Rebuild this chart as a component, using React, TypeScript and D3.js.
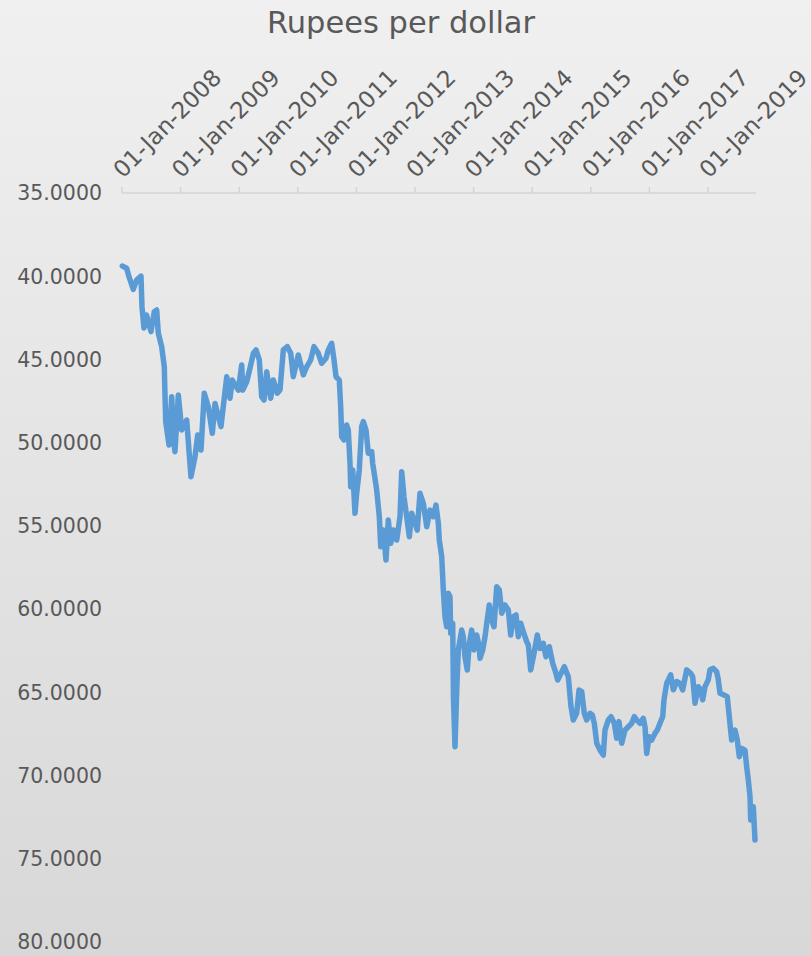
import React from "react";
import * as d3 from "d3";

// Position along the time axis, in fractional years
const yearPos: number[] = [
  2008.005, 2008.080, 2008.119, 2008.193, 2008.251, 2008.324, 2008.341, 2008.375, 2008.418, 2008.449,
  2008.495, 2008.551, 2008.592, 2008.619, 2008.677, 2008.722, 2008.730, 2008.746, 2008.802, 2008.848,
  2008.875, 2008.904, 2008.961, 2009.019, 2009.104, 2009.177, 2009.246, 2009.292, 2009.348, 2009.404,
  2009.473, 2009.541, 2009.587, 2009.689, 2009.787, 2009.843, 2009.882, 2009.985, 2010.043, 2010.060,
  2010.128, 2010.184, 2010.241, 2010.287, 2010.343, 2010.384, 2010.423, 2010.469, 2010.538, 2010.582,
  2010.650, 2010.696, 2010.753, 2010.821, 2010.879, 2010.923, 2011.009, 2011.094, 2011.152, 2011.220,
  2011.276, 2011.350, 2011.408, 2011.481, 2011.520, 2011.578, 2011.618, 2011.652, 2011.708, 2011.732,
  2011.749, 2011.788, 2011.834, 2011.862, 2011.891, 2011.903, 2011.937, 2011.976, 2012.005, 2012.049,
  2012.090, 2012.118, 2012.164, 2012.203, 2012.261, 2012.278, 2012.346, 2012.391, 2012.415, 2012.459,
  2012.505, 2012.544, 2012.585, 2012.630, 2012.688, 2012.744, 2012.773, 2012.812, 2012.858, 2012.903,
  2012.944, 2013.000, 2013.039, 2013.085, 2013.142, 2013.200, 2013.256, 2013.312, 2013.358, 2013.398,
  2013.415, 2013.456, 2013.483, 2013.512, 2013.541, 2013.568, 2013.597, 2013.609, 2013.643, 2013.657,
  2013.683, 2013.712, 2013.739, 2013.797, 2013.824, 2013.853, 2013.892, 2013.927, 2013.968, 2014.007,
  2014.053, 2014.097, 2014.109, 2014.155, 2014.195, 2014.224, 2014.268, 2014.309, 2014.348, 2014.394,
  2014.439, 2014.480, 2014.536, 2014.592, 2014.633, 2014.678, 2014.724, 2014.763, 2014.804, 2014.848,
  2014.906, 2014.934, 2014.974, 2015.031, 2015.087, 2015.133, 2015.189, 2015.235, 2015.292, 2015.350,
  2015.389, 2015.435, 2015.548, 2015.616, 2015.662, 2015.701, 2015.759, 2015.799, 2015.845, 2015.889,
  2015.930, 2015.986, 2016.026, 2016.060, 2016.101, 2016.157, 2016.213, 2016.242, 2016.299, 2016.345,
  2016.401, 2016.442, 2016.481, 2016.527, 2016.584, 2016.640, 2016.698, 2016.742, 2016.783, 2016.840,
  2016.896, 2016.925, 2016.954, 2016.993, 2017.039, 2017.096, 2017.135, 2017.181, 2017.227, 2017.249,
  2017.295, 2017.323, 2017.363, 2017.408, 2017.466, 2017.522, 2017.568, 2017.636, 2017.705, 2017.739,
  2017.778, 2017.834, 2017.875, 2017.909, 2017.949, 2018.005, 2018.034, 2018.091, 2018.148, 2018.176,
  2018.205, 2018.273, 2018.329, 2018.363, 2018.404, 2018.461, 2018.500, 2018.534, 2018.575, 2018.631,
  2018.660, 2018.688, 2018.717, 2018.729, 2018.773, 2018.802,
];

// Rupees per US dollar
const rupeesPerDollar: number[] = [
  39.39, 39.52, 40.03, 40.79, 40.23, 39.99, 41.83, 43.11, 42.33, 42.73,
  43.33, 42.13, 42.03, 43.41, 44.23, 45.44, 46.64, 48.74, 50.14, 47.24,
  49.64, 50.54, 47.14, 49.24, 48.64, 52.05, 50.84, 49.54, 50.44, 47.03,
  47.84, 49.44, 47.64, 49.04, 46.04, 47.33, 46.24, 46.84, 45.33, 46.84,
  46.34, 45.53, 44.63, 44.43, 45.03, 47.24, 47.44, 45.74, 47.33, 46.24,
  47.03, 46.84, 44.43, 44.23, 44.63, 46.04, 44.73, 45.93, 45.44, 45.03,
  44.23, 44.63, 45.23, 44.93, 44.43, 44.03, 45.03, 46.04, 46.24, 47.84,
  49.64, 49.84, 48.94, 49.24, 51.24, 52.65, 51.64, 54.24, 53.04, 51.64,
  49.04, 48.74, 49.24, 50.64, 50.54, 51.24, 52.84, 54.45, 56.25, 55.25,
  57.05, 54.65, 56.05, 55.25, 55.85, 54.45, 51.74, 53.25, 54.45, 55.65,
  54.24, 54.84, 55.25, 53.04, 53.64, 55.05, 54.05, 54.45, 53.75, 54.84,
  55.85, 56.85, 58.85, 60.46, 61.06, 59.05, 59.26, 61.45, 60.85, 65.46,
  68.27, 64.86, 62.46, 61.26, 61.66, 62.86, 63.66, 62.06, 61.26, 62.46,
  61.56, 62.26, 62.96, 62.46, 61.66, 60.85, 59.75, 60.65, 61.06, 58.65,
  58.85, 60.25, 59.75, 60.05, 61.56, 60.46, 60.35, 61.66, 60.85, 61.36,
  61.96, 62.16, 63.66, 62.66, 61.56, 62.36, 62.06, 62.86, 62.26, 63.26,
  63.66, 64.26, 63.46, 64.06, 65.86, 66.66, 66.26, 64.86, 64.96, 66.26,
  66.66, 66.26, 66.36, 66.86, 68.06, 68.47, 68.77, 67.27, 66.66, 66.46,
  66.86, 67.76, 66.76, 68.06, 67.27, 67.07, 66.86, 66.46, 66.66, 66.86,
  66.56, 67.07, 68.67, 67.67, 67.87, 67.46, 67.26, 66.86, 66.46, 65.45,
  64.45, 64.25, 63.95, 64.85, 64.35, 64.46, 64.85, 63.65, 63.86, 64.06,
  65.66, 64.66, 64.85, 65.45, 64.66, 64.25, 63.65, 63.56, 63.76, 64.25,
  65.06, 65.16, 65.26, 66.46, 67.87, 67.27, 67.87, 68.87, 68.37, 68.47,
  69.47, 70.27, 71.27, 72.67, 71.87, 73.87,
];

const tickYears: number[] = [2008, 2009, 2010, 2011, 2012, 2013, 2014, 2015, 2016, 2017, 2018];
const tickLabels: string[] = [
  "01-Jan-2008", "01-Jan-2009", "01-Jan-2010", "01-Jan-2011", "01-Jan-2012", "01-Jan-2013",
  "01-Jan-2014", "01-Jan-2015", "01-Jan-2016", "01-Jan-2017", "01-Jan-2019",
];
const yTicks: number[] = [35, 40, 45, 50, 55, 60, 65, 70, 75, 80];
const title = "Rupees per dollar";

const W = 811;
const H = 956;
const FONT = "'DejaVu Sans', sans-serif";
const TEXT = "#595959";

export default function App() {
  const x = d3.scaleLinear().domain([2008, 2018]).range([122, 708]);
  const y = d3.scaleLinear().domain([35, 80]).range([193, 942]);
  const pts = yearPos.map((t, i) => [t, rupeesPerDollar[i]] as [number, number]);
  const line = d3
    .line<[number, number]>()
    .x((d) => x(d[0]))
    .y((d) => y(d[1]));
  const axisY = y(35);
  const axisX0 = x(yearPos[0]) - 0.3;
  const axisX1 = x(yearPos[yearPos.length - 1]) + 1;

  return (
    <svg
      width={W}
      height={H}
      style={{ position: "absolute", left: 0, top: 0, display: "block" }}
    >
      <defs>
        <linearGradient id="bg" x1="0" y1="0" x2="0" y2="1">
          <stop offset="0" stopColor="#f0f0f0" />
          <stop offset="1" stopColor="#d8d8d8" />
        </linearGradient>
      </defs>
      <rect x={0} y={0} width={W} height={H} fill="url(#bg)" />
      <text
        x={401}
        y={33}
        textAnchor="middle"
        fontFamily={FONT}
        fontSize={30.5}
        fill={TEXT}
      >
        {title}
      </text>
      {/* x axis on top */}
      <line x1={axisX0} x2={axisX1} y1={axisY} y2={axisY} stroke="#d4d4d4" strokeWidth={1.5} />
      {tickYears.map((t) => (
        <line key={"t" + t} x1={x(t)} x2={x(t)} y1={axisY - 6} y2={axisY} stroke="#d4d4d4" strokeWidth={1.5} />
      ))}
      {tickYears.map((t, i) => (
        <text
          key={"l" + t}
          transform={`translate(${x(t) + 1},${axisY - 14}) rotate(-45)`}
          textAnchor="start"
          fontFamily={FONT}
          fontSize={23}
          fill={TEXT}
        >
          {tickLabels[i]}
        </text>
      ))}
      {yTicks.map((v) => (
        <text
          key={"y" + v}
          x={102}
          y={y(v)}
          dy="0.36em"
          textAnchor="end"
          fontFamily={FONT}
          fontSize={20.5}
          fill={TEXT}
        >
          {v.toFixed(4)}
        </text>
      ))}
      <path
        d={line(pts) ?? ""}
        fill="none"
        stroke="#5b9bd5"
        strokeWidth={5.5}
        strokeLinejoin="round"
        strokeLinecap="round"
      />
    </svg>
  );
}
